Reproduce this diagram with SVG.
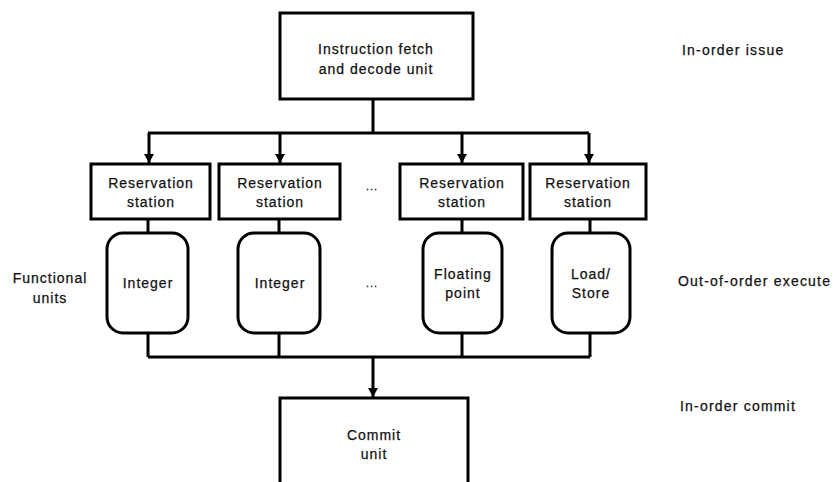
<svg xmlns="http://www.w3.org/2000/svg" width="833" height="482" viewBox="0 0 833 482">
<defs>
<marker id="ah" markerUnits="userSpaceOnUse" markerWidth="10" markerHeight="10" refX="9" refY="5" orient="auto" viewBox="0 0 10 10">
<path d="M0,0 L9,5 L0,10 Z" fill="#000"/>
</marker>
<style>
.box{fill:#fff;stroke:#000;stroke-width:3}
.ln{fill:none;stroke:#000;stroke-width:3}
.t{font-family:"Liberation Sans",Arial,sans-serif;font-size:14px;letter-spacing:1px;fill:#111;stroke:#111;stroke-width:0.25;text-anchor:middle}
.l{font-family:"Liberation Sans",Arial,sans-serif;font-size:14px;letter-spacing:1.2px;fill:#111;stroke:#111;stroke-width:0.25}
</style>
</defs>
<rect width="833" height="482" fill="#fff"/>
<g id="connectors">
<path class="ln" d="M373,99 V133 M148,133 H589"/>
<line class="ln" x1="149" y1="133" x2="149" y2="163" marker-end="url(#ah)"/>
<line class="ln" x1="280" y1="133" x2="280" y2="163" marker-end="url(#ah)"/>
<line class="ln" x1="462" y1="133" x2="462" y2="163" marker-end="url(#ah)"/>
<line class="ln" x1="589" y1="133" x2="589" y2="163" marker-end="url(#ah)"/>
<path class="ln" d="M148,219 V233 M279,219 V233 M462,219 V233 M590,219 V233"/>
<path class="ln" d="M148,333 V357 M279,333 V357 M462,333 V357 M590,333 V357 M148,357 H590"/>
<line class="ln" x1="373" y1="357" x2="373" y2="397" marker-end="url(#ah)"/>
</g>
<g id="fetch">
<rect class="box" x="280" y="13" width="193" height="86"/>
<text class="t" x="376" y="54">Instruction fetch</text>
<text class="t" x="376" y="74">and decode unit</text>
</g>
<g id="rs1">
<rect class="box" x="91" y="164" width="119" height="55"/>
<text class="t" x="151" y="188">Reservation</text>
<text class="t" x="151" y="207">station</text>
</g>
<g id="rs2">
<rect class="box" x="219" y="164" width="121" height="55"/>
<text class="t" x="280" y="188">Reservation</text>
<text class="t" x="280" y="207">station</text>
</g>
<g id="rs3">
<rect class="box" x="400" y="164" width="123" height="55"/>
<text class="t" x="462" y="188">Reservation</text>
<text class="t" x="462" y="207">station</text>
</g>
<g id="rs4">
<rect class="box" x="530" y="164" width="116" height="55"/>
<text class="t" x="588" y="188">Reservation</text>
<text class="t" x="588" y="207">station</text>
</g>
<g id="fu1">
<rect class="box" x="107" y="233" width="81" height="100" rx="16" ry="16"/>
<text class="t" x="148" y="288">Integer</text>
</g>
<g id="fu2">
<rect class="box" x="238" y="233" width="82" height="100" rx="16" ry="16"/>
<text class="t" x="280" y="288">Integer</text>
</g>
<g id="fu3">
<rect class="box" x="423" y="233" width="79" height="100" rx="16" ry="16"/>
<text class="t" x="463" y="279">Floating</text>
<text class="t" x="463" y="298">point</text>
</g>
<g id="fu4">
<rect class="box" x="552" y="233" width="78" height="100" rx="16" ry="16"/>
<text class="t" x="591" y="279">Load/</text>
<text class="t" x="591" y="298">Store</text>
</g>
<g id="commit">
<rect class="box" x="280" y="398" width="188" height="100"/>
<text class="t" x="374" y="440">Commit</text>
<text class="t" x="374" y="459">unit</text>
</g>
<g id="labels">
<text class="t" x="372" y="190" style="font-size:11px">...</text>
<text class="t" x="372" y="287" style="font-size:11px">...</text>
<text class="t" x="50" y="283">Functional</text>
<text class="t" x="50" y="303">units</text>
<text class="l" x="682" y="55">In-order issue</text>
<text class="l" x="678" y="286">Out-of-order execute</text>
<text class="l" x="680" y="411">In-order commit</text>
</g>
</svg>
